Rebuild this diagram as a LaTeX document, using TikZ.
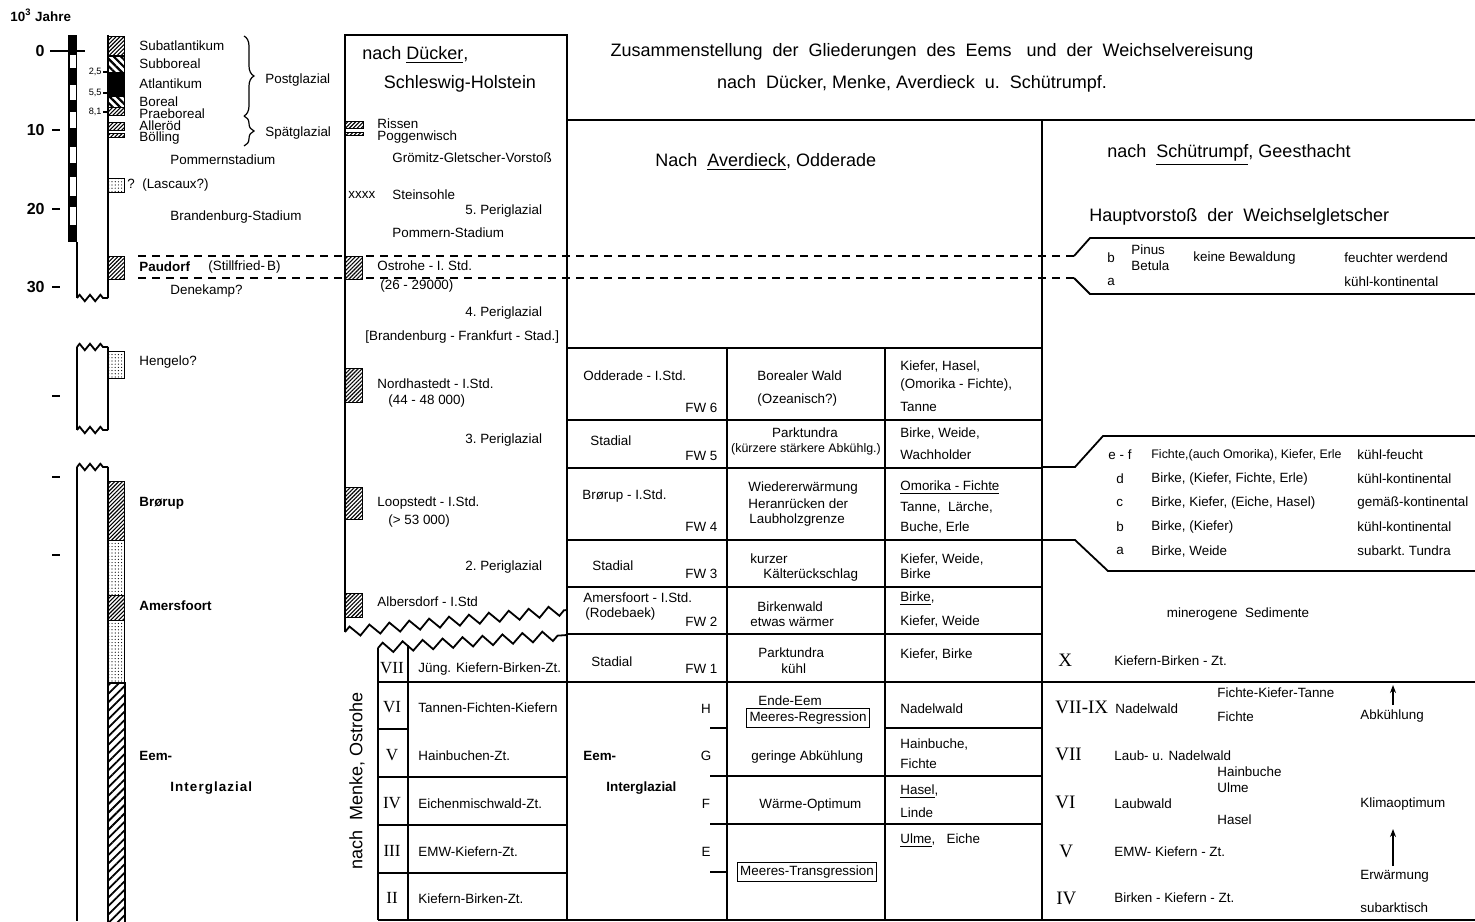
\documentclass[tikz,border=0pt]{standalone}
\usepackage{fontspec}
\setmainfont{Liberation Sans}
\newfontfamily\romanf{Liberation Serif}
\usetikzlibrary{patterns,patterns.meta,decorations.pathreplacing,decorations.pathmorphing,arrows.meta}
\newcommand\fsm{\fontsize{6.7}{7.6}\selectfont}
\newcommand\fhd{\fontsize{9}{10}\selectfont}
\newcommand\fxs{\fontsize{4.6}{5}\selectfont}
\newcommand\frn{\romanf\fontsize{8.5}{9}\selectfont}
\newcommand\frnb{\romanf\fontsize{9.5}{10}\selectfont}
\begin{document}
\begin{tikzpicture}[x=0.5pt,y=-0.5pt,
 tl/.style={anchor=west,inner sep=0pt,font=\fsm},
 tc/.style={inner sep=0pt,font=\fsm},
 th/.style={anchor=west,inner sep=0pt,font=\fhd},
 thc/.style={inner sep=0pt,font=\fhd},
 tb/.style={anchor=west,inner sep=0pt,font=\fsm\bfseries},
 rn/.style={inner sep=0pt,font=\frn},
 rnb/.style={anchor=west,inner sep=0pt,font=\frnb},
 knum/.style={anchor=east,inner sep=0pt,font=\fontsize{8}{9}\selectfont\bfseries},
 frm/.style={line width=0.9pt},
 thinl/.style={line width=0.6pt},
 dsh/.style={line width=0.9pt,dash pattern=on 4pt off 3pt},
 fineh/.style={draw,line width=0.5pt,pattern={Lines[angle=45,distance=1.4pt,line width=0.55pt]}},
 boldh/.style={draw,line width=0.5pt,pattern={Lines[angle=-45,distance=2.6pt,line width=1.1pt]}},
 coarseh/.style={draw,line width=0.6pt,pattern={Lines[angle=45,distance=3pt,line width=0.9pt]}},
 dotf/.style={draw,line width=0.5pt,pattern={Dots[radius=0.3pt,distance=1.6pt]}},
 zz/.style={frm,decorate,decoration={zigzag,segment length=10pt,amplitude=2.5pt}},
 zzs/.style={frm,decorate,decoration={zigzag,segment length=5.2pt,amplitude=1.6pt}},
 arr/.style={line width=0.7pt,-{Stealth[length=4pt,width=3pt]}},
 framebox/.style={draw,line width=0.6pt,inner sep=1.5pt,font=\fsm}
]
\useasboundingbox (0,0) rectangle (1475,921);
\fill[white] (0,0) rectangle (1475,921);

% ---------- left time scale ----------
\node[anchor=west,inner sep=0pt,font=\fsm\bfseries] (yr) at (10,15) {10\textsuperscript{3} Jahre};
\fill (68,35) rectangle (77,242);
\foreach \a/\b in {55/68,85/100,112/128,147/163,177/196,207/225}
  \fill[white] (70,\a) rectangle (75.5,\b);
\node[knum] (k0) at (45,51) {0};
\node[knum] (k10) at (45,130) {10};
\node[knum] (k20) at (45,209) {20};
\node[knum] (k30) at (45,287) {30};
\draw[line width=1.2pt] (50,51) -- (85,51);
\foreach \yy in {130,209,287,396,477,555}
  \draw[line width=1.4pt] (52,\yy) -- (60,\yy);
\node[anchor=east,inner sep=0pt,font=\fxs] (s25) at (102,72) {2,5};
\node[anchor=east,inner sep=0pt,font=\fxs] (s55) at (102,93) {5,5};
\node[anchor=east,inner sep=0pt,font=\fxs] (s81) at (102,112) {8,1};
\foreach \yy in {72,93,112} \draw[thinl] (103,\yy) -- (108,\yy);

% column 1
\draw[frm] (108,35) -- (108,298);
\draw[frm] (77,242) -- (77,298);
\draw[zzs] (77,298) -- (108,298);
% bars
\draw[fineh] (108,36) rectangle (124,55);
\draw[boldh] (108,56) rectangle (124,72);
\draw[fill=black] (108,72) rectangle (124,96);
\draw[boldh] (108,96) rectangle (124,107);
\draw[fineh] (108,107) rectangle (124,115);
\draw[fineh] (108,122) rectangle (124,130);
\draw[fineh] (108,133) rectangle (124,137);
\draw[dotf] (108,178) rectangle (124,192);
\draw[fineh] (108,256) rectangle (124,279);

% column 2 (Hengelo)
\draw[zzs] (77,347) -- (108,347);
\draw[frm] (77,347) -- (77,430);
\draw[frm] (108,347) -- (108,430);
\draw[zzs] (77,430) -- (108,430);
\draw[dotf] (108,351) rectangle (124,378);

% column 3
\draw[zzs] (77,467) -- (108,467);
\draw[frm] (77,467) -- (77,921);
\draw[frm] (108,467) -- (108,921);
\draw[fineh] (108,481) rectangle (124,540);
\draw[dotf] (108,540) rectangle (124,595);
\draw[fineh] (108,595) rectangle (124,620);
\draw[dotf] (108,620) rectangle (124,683);
\draw[coarseh] (108,683) rectangle (125,925);

% labels
\node[tl] (pSa) at (139,46) {Subatlantikum};
\node[tl] (pSb) at (139,64) {Subboreal};
\node[tl] (pAt) at (139,84) {Atlantikum};
\node[tl] (pBo) at (139,102) {Boreal};
\node[tl] (pPr) at (139,114) {Praeboreal};
\node[tl] (pAl) at (139,126) {Alleröd};
\node[tl] (pBl) at (139,138) {Bölling};
\node[tl] (pPo) at (170,160) {Pommernstadium};
\node[tl] (pLa) at (127,185) {?\ \ (Lascaux?)};
\node[tl] (pBr) at (170,217) {Brandenburg-Stadium};
\node[tb] (pPa) at (139,267) {Paudorf};
\node[tl] (pSt) at (208,267) {(Stillfried-\,B)};
\node[tl] (pDe) at (170,291) {Denekamp?};
\draw[thinl,decorate,decoration={brace,amplitude=5pt}] (244,36) -- (244,116);
\draw[thinl,decorate,decoration={brace,amplitude=5pt}] (244,116) -- (244,146);
\node[tl] (pPg) at (265,80) {Postglazial};
\node[tl] (pSp) at (265,133) {Spätglazial};
\node[tl] (pHe) at (139,362) {Hengelo?};
\node[tb] (pBrr) at (139,503) {Brørup};
\node[tb] (pAm) at (139,606) {Amersfoort};
\node[tb] (pEe) at (139,756) {Eem-};
\node[tb] (pIn) at (170,788) {\addfontfeature{LetterSpace=8}Interglazial};

% dashed horizons
\draw[dsh] (138,256) -- (342,256);
\draw[dsh] (138,278) -- (342,278);
\draw[dsh] (366,256) -- (1074,256);
\draw[dsh] (366,278) -- (1074,278);

% ---------- Dücker ----------
\draw[frm] (345,632) -- (345,35) -- (567,35) -- (567,920);
\draw[zz] (345,632) -- (567,610);
\node[th] (dH1) at (362,55) {nach \underline{Dücker},};
\node[thc] (dH2) at (460,84) {Schleswig-Holstein};
\draw[fineh] (345,121) rectangle (363,128);
\draw[fineh] (345,132) rectangle (363,135);
\node[tl] (dRi) at (377,124) {Rissen};
\node[tl] (dPo) at (377,137) {Poggenwisch};
\node[tl] (dGr) at (392,158) {Grömitz-Gletscher-Vorstoß};
\node[tl] (dXx) at (348,195) {xxxx};
\node[tl] (dSt) at (392,195) {Steinsohle};
\node[tl] (dP5) at (465,211) {5.\ Periglazial};
\node[tl] (dPm) at (392,233) {Pommern-Stadium};
\draw[fineh] (345,256) rectangle (362,279);
\node[tl] (dOs) at (377,266) {Ostrohe - I. Std.};
\node[tl] (dOd) at (380,286) {(26 - 29000)};
\node[tl] (dP4) at (465,313) {4.\ Periglazial};
\node[tl] (dBF) at (365,337) {[Brandenburg - Frankfurt - Stad.]};
\draw[fineh] (345,368) rectangle (362,402);
\node[tl] (dNo) at (377,384) {Nordhastedt - I.Std.};
\node[tl] (dNd) at (388,401) {(44 - 48 000)};
\node[tl] (dP3) at (465,440) {3.\ Periglazial};
\draw[fineh] (345,487) rectangle (362,519);
\node[tl] (dLo) at (377,503) {Loopstedt - I.Std.};
\node[tl] (dLd) at (388,521) {(> 53 000)};
\node[tl] (dP2) at (465,567) {2.\ Periglazial};
\draw[fineh] (345,593) rectangle (362,617);
\node[tl] (dAl) at (377,602) {Albersdorf - I.Std};

% ---------- Menke ----------
\draw[zz] (378,648) -- (567,635);
\draw[frm] (378,648) -- (378,920);
\draw[frm] (408,645) -- (408,920);
\draw[frm] (378,729) -- (408,729);
\foreach \yy in {682,777,825,873} \draw[frm] (378,\yy) -- (567,\yy);
\node[rn] (mVII) at (392,668) {VII};
\node[rn] (mVI) at (392,707) {VI};
\node[rn] (mV) at (392,755) {V};
\node[rn] (mIV) at (392,803) {IV};
\node[rn] (mIII) at (392,851) {III};
\node[rn] (mII) at (392,898) {II};
\node[tl] (mT7) at (418,669) {Jüng. Kiefern-Birken-Zt.};
\node[tl] (mT6) at (418,708) {Tannen-Fichten-Kiefern};
\node[tl] (mT5) at (418,756) {Hainbuchen-Zt.};
\node[tl] (mT4) at (418,804) {Eichenmischwald-Zt.};
\node[tl] (mT3) at (418,852) {EMW-Kiefern-Zt.};
\node[tl] (mT2) at (418,899) {Kiefern-Birken-Zt.};
\node[thc,rotate=90] (mLab) at (357,781) {nach\ \ Menke, Ostrohe};

% ---------- title ----------
\node[thc] (ti1) at (932,52) {Zusammenstellung\ \ der\ \ Gliederungen\ \ des\ \ Eems\ \ \ und\ \ der\ \ Weichselvereisung};
\node[thc] (ti2) at (912,84) {nach\ \ Dücker, Menke, Averdieck\ \ u.\ \ Schütrumpf.};
\draw[frm] (567,120) -- (1475,120);
\draw[frm] (1042,120) -- (1042,920);
\node[th] (avH) at (655,162) {Nach\ \ \underline{Averdieck}, Odderade};
\node[th] (scH) at (1107,155) {nach\ \ \underline{Schütrumpf}, Geesthacht};
\node[th] (scH2) at (1089,217) {Hauptvorstoß\ \ der\ \ Weichselgletscher};

% ---------- Averdieck grid ----------
\foreach \yy in {348,420,468,540,587,634} \draw[frm] (567,\yy) -- (1042,\yy);
\draw[frm] (567,682) -- (1475,682);
\draw[frm] (727,348) -- (727,920);
\draw[frm] (885,348) -- (885,920);
\draw[frm] (710,728) -- (727,728);
\draw[frm] (885,728) -- (1042,728);
\draw[frm] (710,776) -- (1042,776);
\draw[frm] (710,824) -- (1042,824);
\draw[frm] (710,872) -- (727,872);
\draw[frm] (378,920) -- (1475,920);

% row FW6
\node[tl] (a61) at (583,376) {Odderade - I.Std.};
\node[tl] (a62) at (685,408) {FW 6};
\node[tl] (a63) at (757,376) {Borealer Wald};
\node[tl] (a64) at (757,400) {(Ozeanisch?)};
\node[tl] (a65) at (900,366) {Kiefer,\ Hasel,};
\node[tl] (a66) at (900,385) {(Omorika - Fichte),};
\node[tl] (a67) at (900,407) {Tanne};
% row FW5
\node[tl] (a51) at (590,441) {Stadial};
\node[tl] (a52) at (685,456) {FW 5};
\node[tc] (a53) at (805,433) {Parktundra};
\node[tc,font=\fontsize{6.2}{7}\selectfont] (a54) at (806,449) {(kürzere stärkere Abkühlg.)};
\node[tl] (a55) at (900,433) {Birke,\ Weide,};
\node[tl] (a56) at (900,455) {Wachholder};
% row FW4
\node[tl] (a41) at (582,496) {Brørup - I.Std.};
\node[tl] (a42) at (685,527) {FW 4};
\node[tl] (a43) at (748,488) {Wiedererwärmung};
\node[tl] (a44) at (748,504) {Heranrücken der};
\node[tl] (a45) at (749,520) {Laubholzgrenze};
\node[tl] (a46) at (900,488) {\underline{Omorika - Fichte}};
\node[tl] (a47) at (900,507) {Tanne,\ \ Lärche,};
\node[tl] (a48) at (900,527) {Buche,\ Erle};
% row FW3
\node[tl] (a31) at (592,566) {Stadial};
\node[tl] (a32) at (685,574) {FW 3};
\node[tl] (a33) at (750,559) {kurzer};
\node[tl] (a34) at (763,575) {Kälterückschlag};
\node[tl] (a35) at (900,559) {Kiefer,\ Weide,};
\node[tl] (a36) at (900,574) {Birke};
% row FW2
\node[tl] (a21) at (583,598) {Amersfoort - I.Std.};
\node[tl] (a22) at (585,614) {(Rodebaek)};
\node[tl] (a23) at (685,622) {FW 2};
\node[tl] (a24) at (757,607) {Birkenwald};
\node[tl] (a25) at (750,622) {etwas wärmer};
\node[tl] (a26) at (900,599) {\underline{Birke},};
\node[tl] (a27) at (900,621) {Kiefer,\ Weide};
% row FW1
\node[tl] (a11) at (591,662) {Stadial};
\node[tl] (a12) at (685,669) {FW 1};
\node[tl] (a13) at (758,653) {Parktundra};
\node[tl] (a14) at (781,669) {kühl};
\node[tl] (a15) at (900,654) {Kiefer,\ Birke};
% Eem
\node[tb] (e1) at (583,756) {Eem-};
\node[tb] (e2) at (606,788) {Interglazial};
\node[tc] (eH) at (706,709) {H};
\node[tc] (eG) at (706,756) {G};
\node[tc] (eF) at (706,804) {F};
\node[tc] (eE) at (706,852) {E};
\node[tl] (e3) at (758,701) {Ende-Eem};
\node[framebox] (e4) at (808,718) {Meeres-Regression};
\node[tl] (e5) at (751,757) {geringe Abkühlung};
\node[tl] (e6) at (759,805) {Wärme-Optimum};
\node[framebox] (e7) at (807,872) {Meeres-Transgression};
\node[tl] (e8) at (900,709) {Nadelwald};
\node[tl] (e9) at (900,744) {Hainbuche,};
\node[tl] (e10) at (900,764) {Fichte};
\node[tl] (e11) at (900,792) {\underline{Hasel},};
\node[tl] (e12) at (900,813) {Linde};
\node[tl] (e13) at (900,841) {\underline{Ulme},\ \ \ Eiche};

% ---------- Schütrumpf ----------
\draw[frm] (1074,256) -- (1090,238) -- (1475,238);
\draw[frm] (1074,278) -- (1090,294) -- (1475,294);
\node[tl] (s1) at (1107,258) {b};
\node[tl] (s2) at (1131,250) {Pinus};
\node[tl] (s3) at (1131,266) {Betula};
\node[tl] (s4) at (1193,258) {keine Bewaldung};
\node[tl] (s5) at (1344,258) {feuchter werdend};
\node[tl] (s6) at (1107,282) {a};
\node[tl] (s7) at (1344,282) {kühl-kontinental};

\draw[frm] (1042,467) -- (1075,467) -- (1103,436) -- (1475,436);
\draw[frm] (1042,540) -- (1075,540) -- (1108,571) -- (1475,571);
\node[tl] (m1) at (1108,455) {e - f};
\node[tl,font=\fontsize{6.2}{7}\selectfont] (m2) at (1151,455) {Fichte,(auch Omorika), Kiefer, Erle};
\node[tl] (m3) at (1357,455) {kühl-feucht};
\node[tl] (m4) at (1116,479) {d};
\node[tl] (m5) at (1151,479) {Birke, (Kiefer, Fichte, Erle)};
\node[tl] (m6) at (1357,479) {kühl-kontinental};
\node[tl] (m7) at (1116,503) {c};
\node[tl] (m8) at (1151,503) {Birke, Kiefer, (Eiche, Hasel)};
\node[tl] (m9) at (1357,503) {gemäß-kontinental};
\node[tl] (m10) at (1116,527) {b};
\node[tl] (m11) at (1151,527) {Birke,\ (Kiefer)};
\node[tl] (m12) at (1357,527) {kühl-kontinental};
\node[tl] (m13) at (1116,551) {a};
\node[tl] (m14) at (1151,551) {Birke, Weide};
\node[tl] (m15) at (1357,551) {subarkt.\ Tundra};
\node[tc] (m16) at (1238,614) {minerogene\ \ Sedimente};

\node[rnb] (b1) at (1058,660) {X};
\node[tl] (b2) at (1114,661) {Kiefern-Birken - Zt.};
\node[rnb] (b3) at (1055,707) {VII-IX};
\node[tl] (b4) at (1115,709) {Nadelwald};
\node[tl] (b5) at (1217,693) {Fichte-Kiefer-Tanne};
\node[tl] (b6) at (1217,717) {Fichte};
\node[tl] (b7) at (1360,716) {Abkühlung};
\coordinate (ar1s) at (1393,705);
\coordinate (ar1e) at (1393,685);
\draw[arr] (ar1s) -- (ar1e);
\node[rnb] (b8) at (1055,754) {VII};
\node[tl] (b9) at (1114,756) {Laub- u. Nadelwald};
\node[tl] (b10) at (1217,772) {Hainbuche};
\node[tl] (b11) at (1217,788) {Ulme};
\node[rnb] (b12) at (1055,802) {VI};
\node[tl] (b13) at (1114,804) {Laubwald};
\node[tl] (b14) at (1217,820) {Hasel};
\node[tl] (b15) at (1360,804) {Klimaoptimum};
\node[rnb] (b16) at (1059,851) {V};
\node[tl] (b17) at (1114,852) {EMW- Kiefern - Zt.};
\coordinate (ar2s) at (1393,866);
\coordinate (ar2e) at (1393,829);
\draw[arr] (ar2s) -- (ar2e);
\node[tl] (b18) at (1360,876) {Erwärmung};
\node[rnb] (b19) at (1056,898) {IV};
\node[tl] (b20) at (1114,898) {Birken - Kiefern - Zt.};
\node[tl] (b21) at (1360,908) {subarktisch};
\end{tikzpicture}
\end{document}
